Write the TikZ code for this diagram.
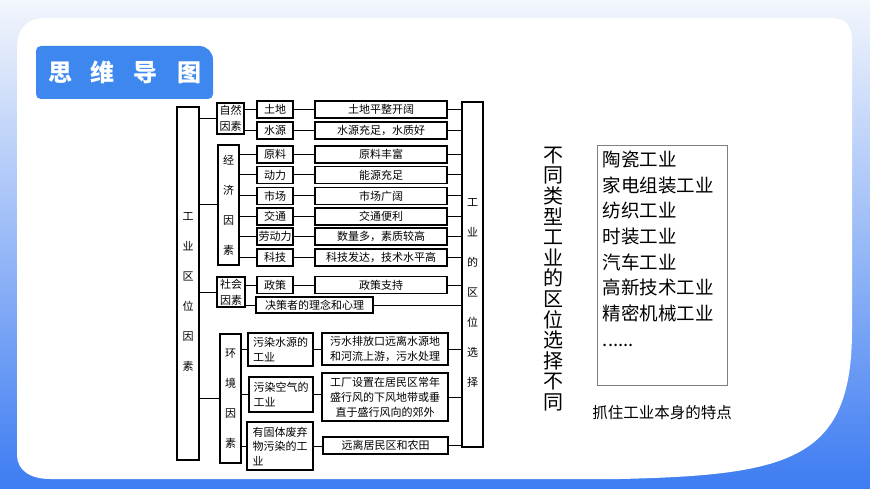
\documentclass[tikz,border=0pt]{standalone}
\usepackage{fontspec}
\setmainfont{Noto Sans CJK SC}
\usetikzlibrary{positioning}
\definecolor{bgtop}{HTML}{F3F6FC}
\definecolor{bgmid}{HTML}{BCCDF8}
\definecolor{bgbot}{HTML}{3D7CF2}
\definecolor{hdrblue}{HTML}{3D87EE}
\definecolor{listgray}{HTML}{7F7F7F}
\newcommand{\treefont}{\fontsize{11}{15}\selectfont}
\newcommand{\colfont}{\fontsize{11}{30}\selectfont}

\begin{document}
\begin{tikzpicture}[
        x=1pt, y=-1pt,
        frame/.style={draw, line width=1.1pt, inner sep=0pt, font=\treefont, align=center},
        itembox/.style={frame, minimum width=36pt, minimum height=17pt},
        detailbox/.style={frame, minimum width=132pt, minimum height=17pt},
        colbox/.style={frame, minimum width=21pt, font=\colfont},
        vtext/.style={align=center, inner sep=0pt, font=\colfont},
        link/.style={line width=1pt}
    ]
        \useasboundingbox (0,0) rectangle (870,489);
        \shade[top color=bgtop, middle color=bgmid, bottom color=bgbot] (0,0) rectangle (870,489);

        % white card, bottom right corner swings out
        \fill[white] (17,48) .. controls (17,28) and (27,18) .. (47,18) -- (830,18)
            .. controls (845,18) and (852,25) .. (852,40) -- (852,330)
            .. controls (852,460) and (790,475) .. (620,479) -- (50,479)
            .. controls (30,479) and (17,470) .. (17,455) -- cycle;

        \fill[hdrblue] (36,51) .. controls (36,48) and (38,46) .. (41,46) -- (199,46)
            .. controls (207,46) and (213,52) .. (213,60) -- (213,94)
            .. controls (213,97) and (211,99) .. (208,99) -- (41,99)
            .. controls (38,99) and (36,97) .. (36,94) -- cycle;
        \node[text=white, font=\fontsize{24}{24}\selectfont\bfseries] (hdr) at (124.5,72.5) {思\hspace{19pt}维\hspace{19pt}导\hspace{19pt}图};

        % both long columns: box and its text are set apart, the text sits lower
        \node[frame, minimum width=22pt, minimum height=353pt] (root) at (188,283.5) {};
        \node[vtext] (rootlabel) at (188,292) {工\\业\\区\\位\\因\\素};
        \node[colbox, minimum height=345pt] (sel) at (472.5,274.5) {};
        \node[vtext] (sellabel) at (472.5,292.5) {工\\业\\的\\区\\位\\选\\择};

        \node[frame, minimum width=27pt, minimum height=31pt, font=\fontsize{11}{16}\selectfont] (nat) at (230.5,118.5) {自然\\因素};
        \node[colbox, minimum height=120pt] (eco) at (228.5,205) {经\\济\\因\\素};
        \node[frame, minimum width=28pt, minimum height=30pt, font=\fontsize{11}{16}\selectfont] (soc) at (231,292) {社会\\因素};
        \node[colbox, minimum height=129pt] (env) at (230.5,398.5) {环\\境\\因\\素};

        \foreach \zn in {nat,eco,soc,env}
            \draw[link] (root.east |- \zn.west) -- (\zn.west);

        \foreach \nm/\zn/\y/\lbl/\txt in {
                land/nat/109.5/土地/土地平整开阔,
                water/nat/130.5/水源/水源充足，水质好,
                raw/eco/154.5/原料/原料丰富,
                power/eco/175/动力/能源充足,
                market/eco/196/市场/市场广阔,
                traffic/eco/216.5/交通/交通便利,
                labor/eco/236.5/劳动力/数量多，素质较高,
                tech/eco/257.5/科技/科技发达，技术水平高,
                policy/soc/285/政策/政策支持} {
            \node[itembox] (\nm) at (275,\y) {\lbl};
            \node[detailbox] (\nm-d) at (381,\y) {\txt};
            \draw[link] (\zn.east |- \nm.west) -- (\nm.west);
            \draw[link] (\nm) -- (\nm-d);
            \draw[link] (\nm-d.east) -- (\nm-d.east -| sel.west);
        }

        \node[frame, minimum width=117pt, minimum height=16pt] (dec) at (314.5,305) {决策者的理念和心理};
        \draw[link] (soc.east |- dec.west) -- (dec.west);
        \draw[link] (dec.east) -- (dec.east -| sel.west);

        \node[frame, minimum width=65pt, minimum height=33pt, align=left] (wpoll) at (280.5,349.5) {污染水源的\\工业};
        \node[frame, minimum width=64pt, minimum height=35pt, align=left] (apoll) at (281,394.5) {污染空气的\\工业};
        \node[frame, minimum width=66pt, minimum height=48pt, align=left, font=\fontsize{11}{14.5}\selectfont] (spoll) at (280,446) {有固体废弃\\物污染的工\\业};
        \node[frame, minimum width=126pt, minimum height=32pt] (wdet) at (385,349) {污水排放口远离水源地\\和河流上游，污水处理};
        \node[frame, minimum width=126pt, minimum height=48pt] (adet) at (385,397) {工厂设置在居民区常年\\盛行风的下风地带或垂\\直于盛行风向的郊外};
        \node[frame, minimum width=125pt, minimum height=17pt] (sdet) at (385.5,445.5) {远离居民区和农田};

        \foreach \src/\dst in {wpoll/wdet, apoll/adet, spoll/sdet} {
            \draw[link] (env.east |- \src.west) -- (\src.west);
            \draw[link] (\src.east) -- (\src.east -| \dst.west);
            \draw[link] (\dst.east) -- (\dst.east -| sel.west);
        }

        % right half
        \node[align=center, inner sep=0pt, font=\fontsize{20}{20.6}\selectfont] (vtitle) at (553,279) {不\\同\\类\\型\\工\\业\\的\\区\\位\\选\\择\\不\\同};
        \node[draw=listgray, line width=0.6pt, minimum width=130pt, minimum height=240pt] (list) at (662,265) {};
        \node[below right=6pt and 6pt of list.north west, align=left, inner sep=0pt, font=\fontsize{18.5}{25.7}\selectfont] (types) {陶瓷工业\\家电组装工业\\纺织工业\\时装工业\\汽车工业\\高新技术工业\\精密机械工业\\......};
        \node[inner sep=0pt, font=\fontsize{15.5}{18}\selectfont] (note) at (662,413) {抓住工业本身的特点};
    \end{tikzpicture}
\end{document}
